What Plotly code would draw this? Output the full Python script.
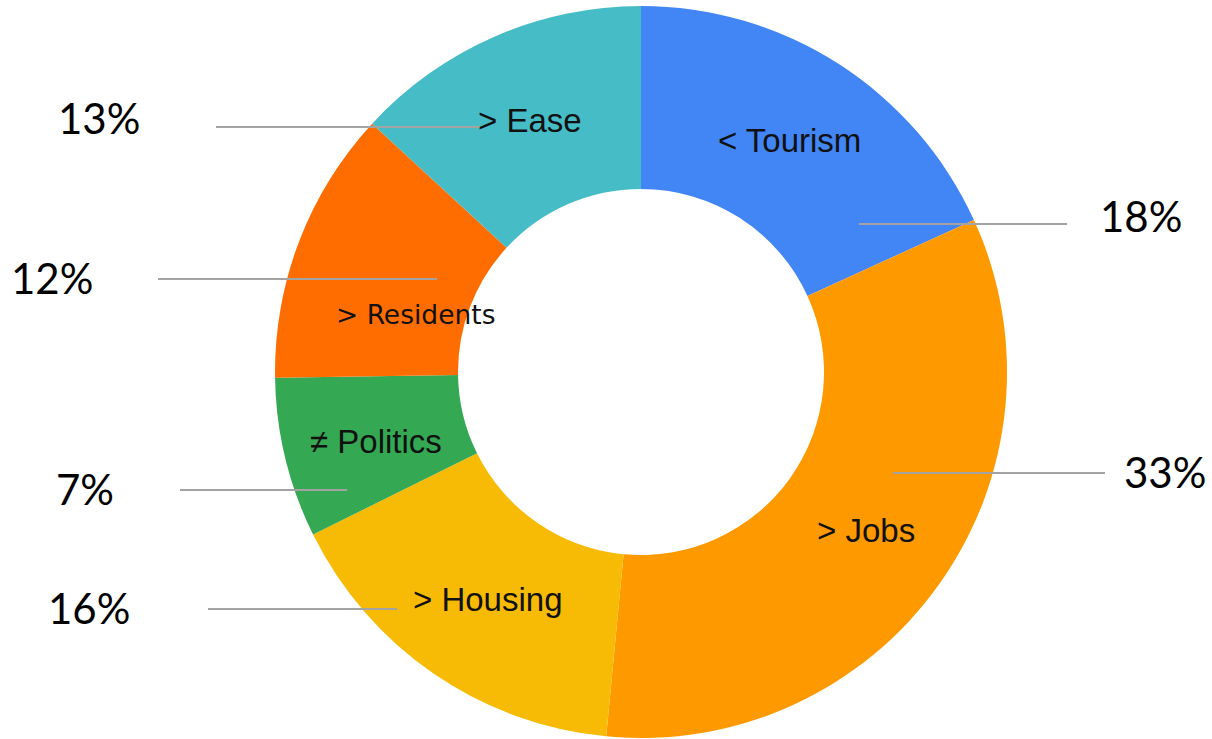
import plotly.graph_objects as go

# Survey shares, clockwise from 12 o'clock
categories = ["< Tourism", "> Jobs", "> Housing", "≠ Politics", "> Residents", "> Ease"]
shares = [18, 33, 16, 7, 12, 13]
colors = ["#4285F4", "#FF9900", "#F8BB05", "#34A853", "#FF6D01", "#46BDC6"]

W, H = 1212, 739

# Placement (pixels) of the in-slice names
name_pos = [(790, 140), (866, 530), (488, 599), (376, 441), (415, 314), (530, 120)]
name_font = ["Liberation Sans"] * 4 + ["DejaVu Sans", "Liberation Sans"]
name_size = [33, 33, 33, 33, 26.5, 33]

# Placement (pixels) of the percentage labels and their leader lines
pct_pos = [(1141, 216), (1165, 472), (89, 608), (85, 489), (52, 278), (99, 118)]
leader = [(859, 1067, 224), (893, 1105, 473), (208, 397, 609),
          (180, 347, 490), (158, 437, 279), (216, 480, 127)]


def px(x):
    return x / W


def py(y):
    return 1 - y / H


# Donut geometry: center (641, 372), outer radius 366 px
cx, cy, r = 641, 372, 366

fig = go.Figure(go.Pie(
    labels=categories,
    values=shares,
    marker=dict(colors=colors, line=dict(width=0)),
    hole=0.5,
    sort=False,
    direction="clockwise",
    rotation=0,
    textinfo="none",
    hoverinfo="label+percent",
    showlegend=False,
    domain=dict(x=[px(cx - r), px(cx + r)], y=[py(cy + r), py(cy - r)]),
))

annotations = []
for name, (x, y), f, s in zip(categories, name_pos, name_font, name_size):
    annotations.append(dict(
        x=px(x), y=py(y), xref="paper", yref="paper", text=name,
        showarrow=False, xanchor="center", yanchor="middle",
        font=dict(family=f, size=s, color="#111111"),
    ))
for v, (x, y) in zip(shares, pct_pos):
    annotations.append(dict(
        x=px(x), y=py(y), xref="paper", yref="paper", text=f"{v}%",
        showarrow=False, xanchor="center", yanchor="middle",
        font=dict(family="Lato", size=42, color="#000000"),
    ))

shapes = [
    dict(type="line", xref="paper", yref="paper",
         x0=px(x0), x1=px(x1), y0=py(y), y1=py(y),
         line=dict(color="#A3A3A3", width=2), layer="above")
    for x0, x1, y in leader
]

fig.update_layout(
    width=W, height=H, autosize=False,
    margin=dict(l=0, r=0, t=0, b=0),
    paper_bgcolor="white", plot_bgcolor="white",
    annotations=annotations, shapes=shapes,
)

fig.write_html("out.html", config={"displayModeBar": False})
